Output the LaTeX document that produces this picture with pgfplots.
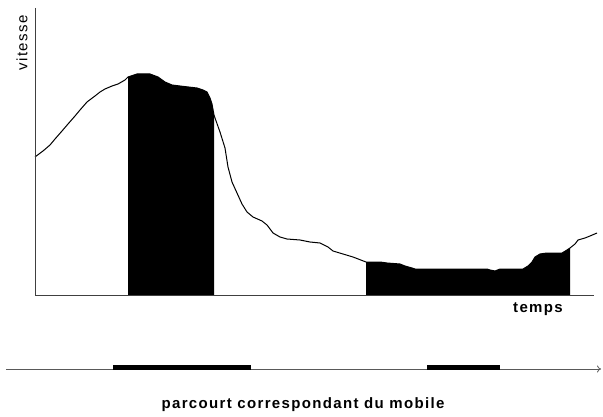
\documentclass[border=0pt]{standalone}
\usepackage{fontspec}
\setmainfont{Liberation Sans}
\newfontfamily\lab[LetterSpace=9]{Liberation Sans}
\usepackage{pgfplots}
\pgfplotsset{compat=1.18}
\usetikzlibrary{arrows.meta}
\begin{document}
\begin{tikzpicture}
\begin{axis}[
  width=603pt, height=417pt, scale only axis,
  xmin=0, xmax=603, ymin=0, ymax=417, y dir=reverse,
  hide axis, clip=false
]
% bounding box
\addplot[draw=none] coordinates {(0,0) (603,417)};
% filled regions
\addplot[fill=black, draw=none] coordinates {
 (128,295) (128,77) (137,74) (150,74) (158,77) (165,82) (172,85) (180,86)
 (197,88) (203,90) (207,92) (210,98) (212,104) (214,115) (214,295)} -- cycle;
\addplot[fill=black, draw=none] coordinates {
 (366,295) (366,262) (380,262) (387,263) (400,264) (405,266) (412,268) (415,269)
 (487,269) (490,270) (495,271) (500,269) (523,269) (528,266) (532,262) (535,257)
 (540,254) (547,253) (562,253) (567,250) (570,248) (570,295)} -- cycle;
% curve
\addplot[black, line width=1pt] coordinates {
 (35,157) (43,151) (50,145) (55,139) (62,131) (68,124) (75,116) (80,110)
 (87,102) (95,96) (100,92) (105,89) (112,86) (118,84) (125,80) (128,77)
 (137,74) (150,74) (158,77) (165,82) (172,85) (180,86) (197,88) (203,90)
 (207,92) (210,98) (212,104) (214,115) (215,118) (220,132) (225,148) (228,167)
 (232,182) (237,193) (242,204) (247,212) (253,217) (262,221) (267,225) (273,233)
 (280,237) (287,239) (300,240) (310,242) (320,243) (328,247) (333,251) (343,254)
 (353,257) (366,262) (380,262) (387,263) (400,264) (405,266) (412,268) (415,269)
 (487,269) (490,270) (495,271) (500,269) (523,269) (528,266) (532,262) (535,257)
 (540,254) (547,253) (562,253) (567,250) (570,248) (575,244) (578,240) (585,238)
 (590,236) (597,233)};
% axes
\addplot[black!75, line width=0.8pt] coordinates {(35,8) (35,295) (594,295)};
% bottom path line
\addplot[black!65, line width=0.8pt, -{To[length=4pt,width=7pt]}] coordinates {(6,369) (601,369)};
\addplot[black, line width=5pt] coordinates {(113,367) (251,367)};
\addplot[black, line width=5pt] coordinates {(427,367) (500,367)};
% texts
\node[rotate=90, font=\lab\fontsize{15}{17}\selectfont] at (axis cs:22,43) {vitesse};
\node[font=\lab\bfseries\fontsize{15}{17}\selectfont] at (axis cs:538,309) {temps};
\node[font=\lab\bfseries\fontsize{15}{17}\selectfont] at (axis cs:303,405) {parcourt correspondant du mobile};
\end{axis}
\end{tikzpicture}
\end{document}
